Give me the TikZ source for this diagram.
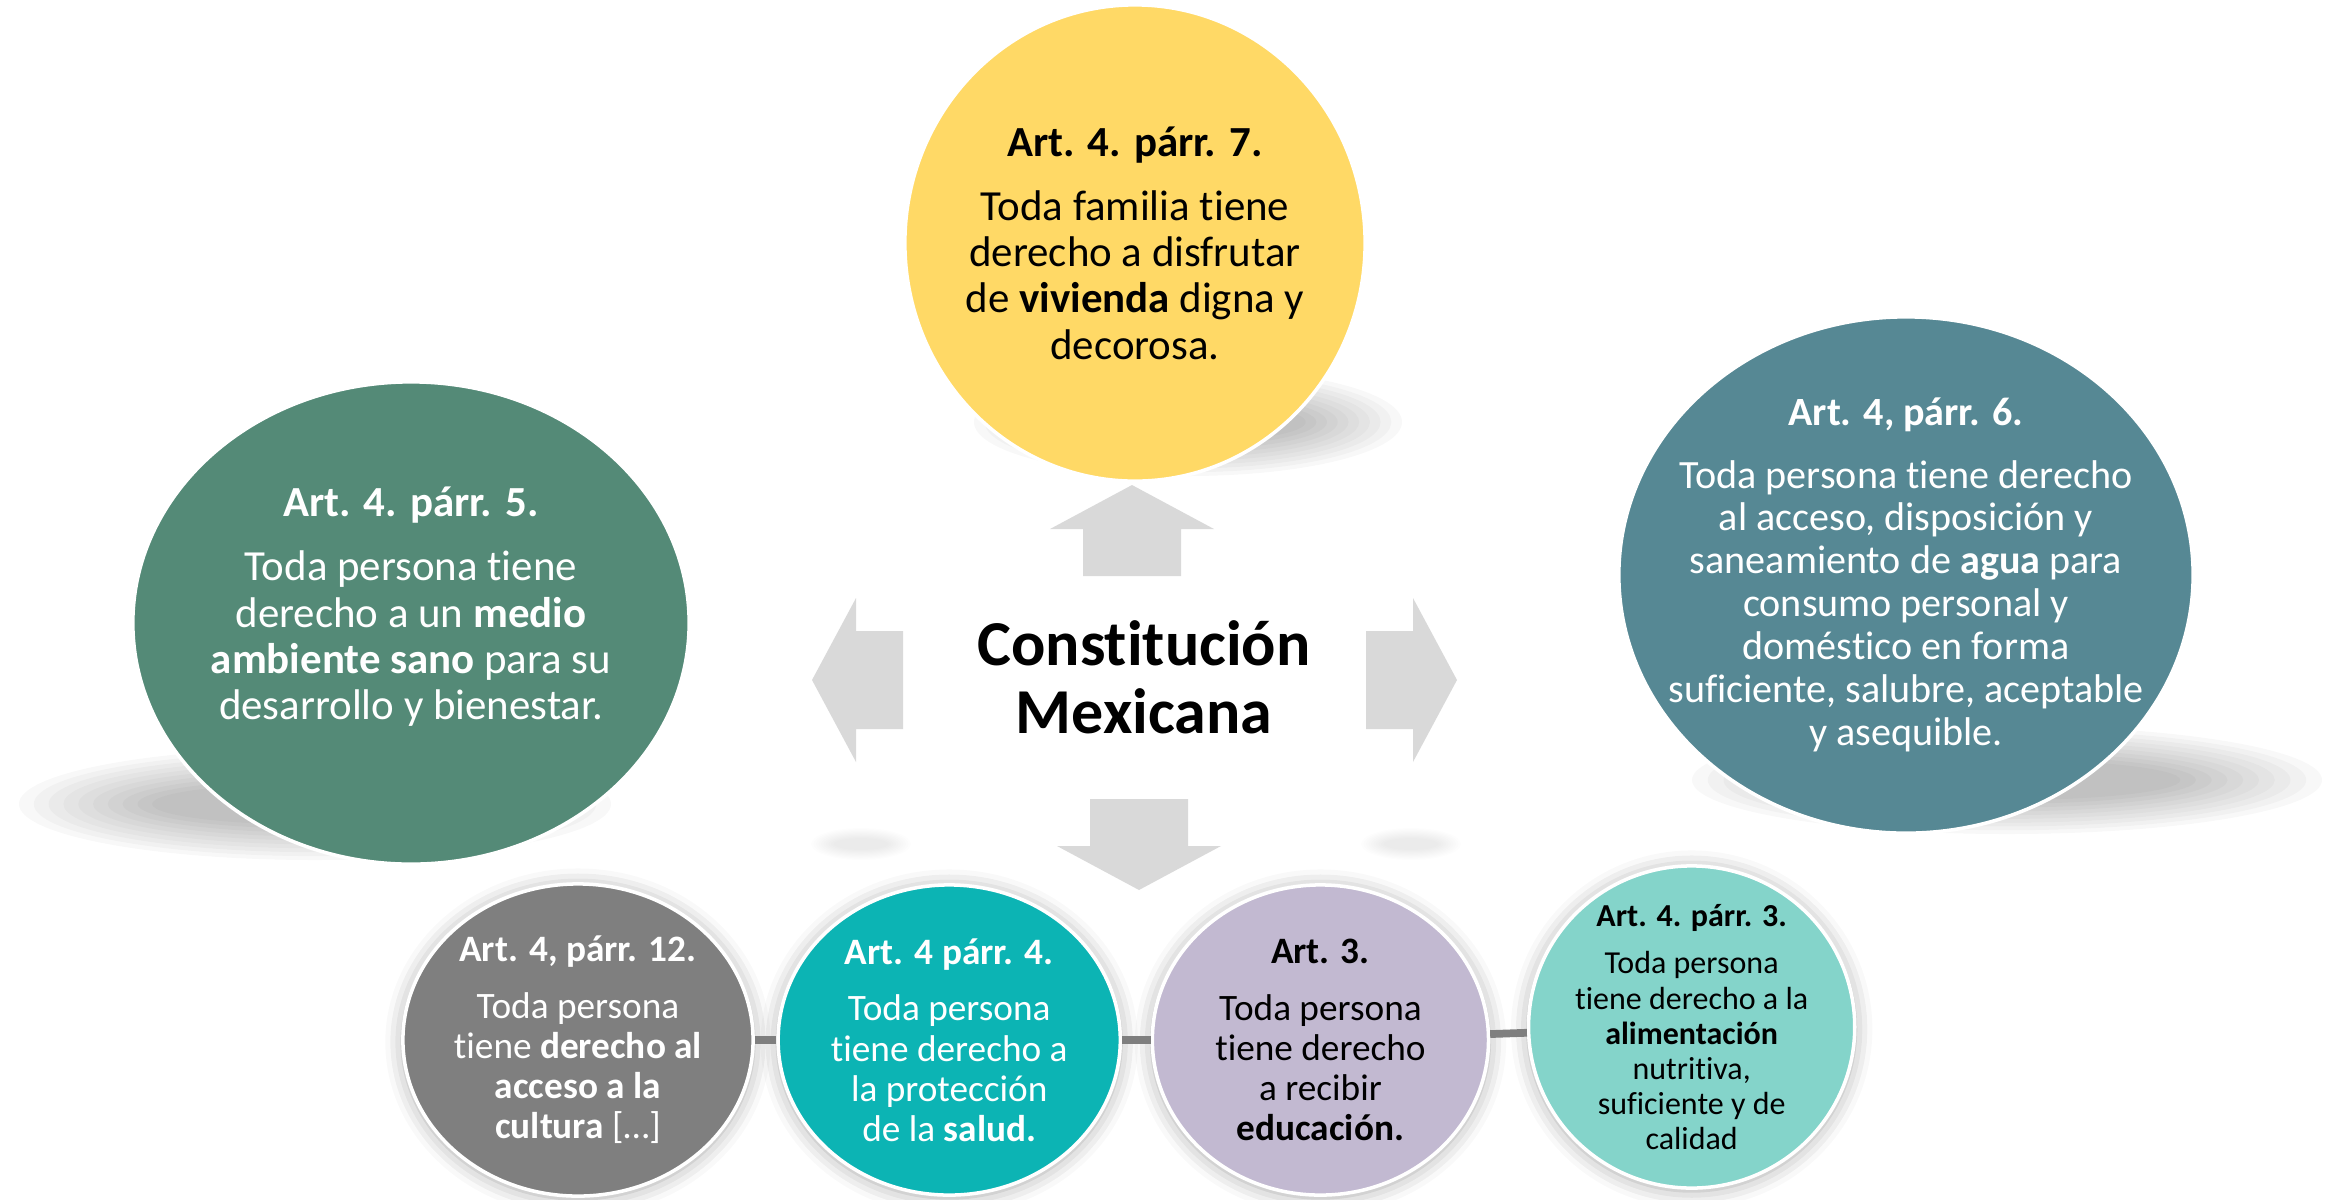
\documentclass[tikz,border=0pt]{standalone}
\usepackage{fontspec}
\setmainfont{Carlito}[Ligatures=NoCommon]
\usetikzlibrary{shapes.geometric,shadows.blur,positioning}

\definecolor{vivienda}{HTML}{FFD966}
\definecolor{ambiente}{HTML}{548A77}
\definecolor{agua}{HTML}{568894}
\definecolor{cultura}{HTML}{7F7F7F}
\definecolor{salud}{HTML}{0CB4B4}
\definecolor{educa}{HTML}{C2B9D1}
\definecolor{alimento}{HTML}{84D4CA}
\definecolor{flecha}{HTML}{D9D9D9}
\definecolor{enlace}{HTML}{7F7F7F}

\tikzset{
  bubble/.style={ellipse, draw=white, line width=1pt, inner sep=0pt},
  small bubble/.style={bubble, blur shadow={shadow xshift=0pt, shadow yshift=-0.6pt,
      shadow blur radius=5pt, shadow opacity=35}},
  bigtxt/.style={align=center, inner sep=0pt, font=\fontsize{12.2}{13.2}\selectfont},
  midtxt/.style={align=center, inner sep=0pt, font=\fontsize{11.4}{12.2}\selectfont},
  smalltxt/.style={align=center, inner sep=0pt, font=\fontsize{10.6}{11.4}\selectfont},
  tinytxt/.style={align=center, inner sep=0pt, font=\fontsize{9.1}{10}\selectfont},
  bar/.style={draw=enlace, line width=2.2pt},
  blockarrow/.pic={\fill[flecha] (-49,0) -- (-49,47) -- (-82,47) -- (0,91)
      -- (82,47) -- (49,47) -- (49,0) -- cycle;}
}

\begin{document}
\begin{tikzpicture}[x=0.01cm,y=-0.01cm,node distance=3.71cm]
\useasboundingbox (0,0) rectangle (2329,1199);

% soft shadows
\foreach \cx/\cy/\rx/\ry/\op in {315/804/296/56/0.026, 2007/780/315/54/0.026, 1188/422/214/54/0.026,
    861/844/50/16/0.009, 1411/844/50/16/0.009}
  \foreach \k in {0,...,9}
    \fill[black, opacity=\op] (\cx,\cy) ellipse [x radius={\rx*(1-\k*0.05)}, y radius={\ry*(1-\k*0.07)}];

% arrows around the centre
\pic[rotate=180] at (1132,576) {blockarrow};
\pic at (1139,799) {blockarrow};
\pic[rotate=-90] at (903,680) {blockarrow};
\pic[rotate=90] at (1366,680) {blockarrow};

\node[align=center, inner sep=0pt, font=\fontsize{18.2}{19.4}\selectfont\bfseries] (cpeum) at (1144,677)
  {Constitución\\Mexicana};

% big circles
\node[bubble, fill=vivienda, minimum width=4.6cm, minimum height=4.76cm] (viv) at (1135,243) {};
\node[bubble, fill=ambiente, minimum width=5.56cm, minimum height=4.82cm] (amb) at (411,623) {};
\node[bubble, fill=agua, minimum width=5.74cm, minimum height=5.16cm] (agu) at (1906,575) {};

\node[bigtxt] (vivT) at (viv) {\textbf{Art. 4. párr. 7.}\\[5pt] Toda familia tiene\\ derecho a disfrutar\\
  de \textbf{vivienda} digna y\\ decorosa.};
\node[bigtxt, text=white, yshift=0.16cm] (ambT) at (amb) {\textbf{Art. 4. párr. 5.}\\[5pt] Toda persona tiene\\
  derecho a un \textbf{medio}\\ \textbf{ambiente sano} para su\\ desarrollo y bienestar.};
\node[midtxt, text=white] (aguT) at (agu) {\textbf{Art. 4, párr. 6.}\\[5.5pt] Toda persona tiene derecho\\
  al acceso, disposición y\\ saneamiento de \textbf{agua} para\\ consumo personal y\\ doméstico en forma\\
  suficiente, salubre, aceptable\\ y asequible.};

% bottom row
\node[small bubble, fill=cultura, minimum width=3.5cm, minimum height=3.12cm] (cul) at (578,1040) {};
\node[small bubble, fill=salud, minimum width=3.42cm, minimum height=3.1cm] (sal) [right of=cul] {};
\node[small bubble, fill=educa, minimum width=3.36cm, minimum height=3.1cm] (edu) [right of=sal] {};
\node[small bubble, fill=alimento, minimum width=3.26cm, minimum height=3.22cm, yshift=0.13cm] (ali) [right of=edu] {};

\path[bar] (cul) -- (sal);
\path[bar] (sal) -- (edu);
\path[bar] (edu) -- (ali);

\node[smalltxt, text=white] (culT) at (cul) {\textbf{Art. 4, párr. 12.}\\[4.7pt] Toda persona\\
  tiene \textbf{derecho al}\\ \textbf{acceso a la}\\ \textbf{cultura} [\ldots]};
\node[smalltxt, text=white] (salT) at (sal) {\textbf{Art. 4 párr. 4.}\\[4.7pt] Toda persona\\
  tiene derecho a\\ la protección\\ de la \textbf{salud.}};
\node[smalltxt] (eduT) at (edu) {\textbf{Art. 3.}\\[4.7pt] Toda persona\\ tiene derecho\\ a recibir\\
  \textbf{educación.}};
\node[tinytxt] (aliT) at (ali) {\textbf{Art. 4. párr. 3.}\\[3.6pt] Toda persona\\ tiene derecho a la\\
  \textbf{alimentación}\\ nutritiva,\\ suficiente y de\\ calidad};

\end{tikzpicture}
\end{document}
